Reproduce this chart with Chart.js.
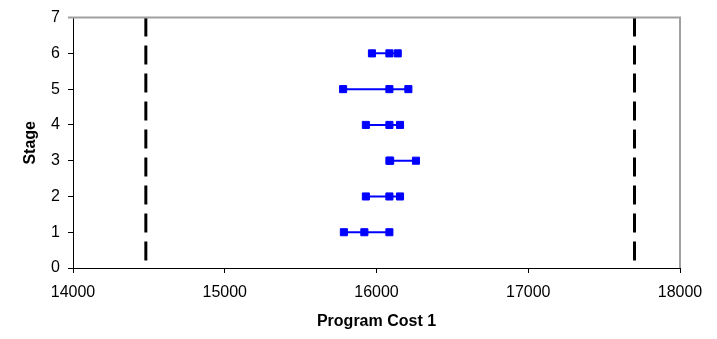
<!DOCTYPE html>
<html>
<head>
<meta charset="utf-8">
<script src="https://cdn.jsdelivr.net/npm/chart.js@4/dist/chart.umd.min.js"></script>
<style>
  html, body { margin: 0; padding: 0; background: #ffffff; }
  #wrap { width: 717px; height: 339px; }
</style>
</head>
<body>
<div id="wrap"><canvas id="c" width="717" height="339"></canvas></div>
<script>
// ---- data ----
const stageLevels = [1, 2, 3, 4, 5, 6];
const stage1Costs = [15785, 15920, 16085];
const stage2Costs = [15930, 16085, 16155];
const stage3Costs = [16085, 16090, 16260];
const stage4Costs = [15930, 16085, 16155];
const stage5Costs = [15780, 16085, 16210];
const stage6Costs = [15970, 16085, 16140];
const lowerLimit = 14480;
const upperLimit = 17700;
const xTickValues = [14000, 15000, 16000, 17000, 18000];
const yTickValues = [0, 1, 2, 3, 4, 5, 6, 7];
const xTitle = 'Program Cost 1';
const yTitle = 'Stage';

const allStageCosts = [stage1Costs, stage2Costs, stage3Costs, stage4Costs, stage5Costs, stage6Costs];

const FONT = '"Liberation Sans", Arial, Helvetica, sans-serif';
const BLUE = '#0000FF';

const datasets = [];
allStageCosts.forEach((costs, i) => {
  datasets.push({
    label: 'Stage ' + stageLevels[i],
    data: costs.map(c => ({ x: c, y: stageLevels[i] })),
    showLine: true,
    borderColor: BLUE,
    backgroundColor: BLUE,
    borderWidth: 2,
    pointStyle: 'rect',
    pointRadius: 5,
    pointBorderWidth: 1,
    pointBorderColor: BLUE,
    pointBackgroundColor: BLUE
  });
});
[lowerLimit, upperLimit].forEach((v, i) => {
  datasets.push({
    label: i === 0 ? 'Lower' : 'Upper',
    data: [{ x: v, y: yTickValues[yTickValues.length - 1] }, { x: v, y: yTickValues[0] }],
    showLine: true,
    borderColor: '#000000',
    borderWidth: 3,
    borderDash: [19, 9],
    pointRadius: 0
  });
});

const frame = {
  id: 'frame',
  afterDatasetsDraw(chart) {
    const { ctx, chartArea: a } = chart;
    ctx.save();
    ctx.strokeStyle = '#a0a0a0';
    ctx.lineWidth = 2;
    ctx.beginPath();
    ctx.moveTo(a.left - 5, a.top);
    ctx.lineTo(a.right, a.top);
    ctx.lineTo(a.right, a.bottom);
    ctx.stroke();
    ctx.restore();
  }
};

new Chart(document.getElementById('c'), {
  type: 'scatter',
  data: { datasets },
  plugins: [frame],
  options: {
    responsive: false,
    animation: false,
    layout: { padding: { left: 0, right: 37, top: 16, bottom: 0 } },
    plugins: { legend: { display: false }, tooltip: { enabled: false } },
    scales: {
      x: {
        type: 'linear',
        min: xTickValues[0],
        max: xTickValues[xTickValues.length - 1],
        afterBuildTicks: s => { s.ticks = xTickValues.map(v => ({ value: v })); },
        afterFit: s => { s.height = 71; },
        grid: { display: true, drawOnChartArea: false, drawTicks: true, tickLength: 5, color: '#000000' },
        border: { color: '#000000', width: 1 },
        ticks: { color: '#000000', font: { family: FONT, size: 16 }, padding: 10, maxRotation: 0, callback: v => String(v) },
        title: { display: true, text: xTitle, color: '#000000', font: { family: FONT, size: 16, weight: 'bold' }, padding: { top: 0, bottom: 8 } }
      },
      y: {
        type: 'linear',
        min: yTickValues[0],
        max: yTickValues[yTickValues.length - 1],
        afterBuildTicks: s => { s.ticks = yTickValues.map(v => ({ value: v })); },
        afterFit: s => { s.width = 73; },
        grid: { display: true, drawOnChartArea: false, drawTicks: true, tickLength: 5, color: '#000000' },
        border: { color: '#000000', width: 1 },
        ticks: { color: '#000000', font: { family: FONT, size: 16 }, padding: 8, callback: v => String(v) },
        title: { display: true, text: yTitle, color: '#000000', font: { family: FONT, size: 16, weight: 'bold' }, padding: { top: 21, bottom: 0 } }
      }
    }
  }
});
</script>
</body>
</html>
